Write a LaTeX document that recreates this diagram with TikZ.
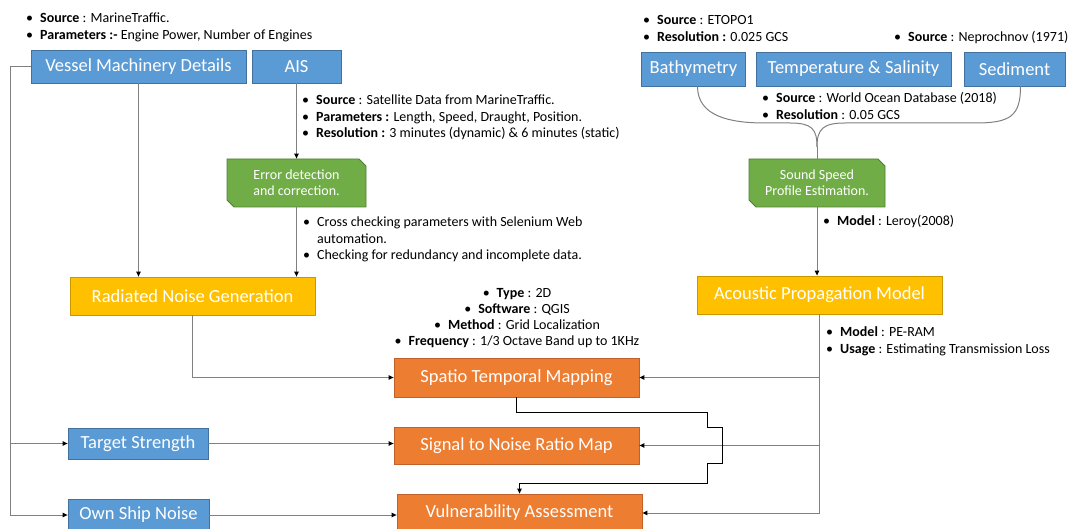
\documentclass[tikz,border=0pt]{standalone}
\usepackage{fontspec}
\setmainfont{Carlito}
\usetikzlibrary{arrows.meta,shapes.misc}
\definecolor{boxblue}{HTML}{5B9BD5}
\definecolor{edgeblue}{HTML}{41719C}
\definecolor{boxgreen}{HTML}{70AD47}
\definecolor{edgegreen}{HTML}{507E32}
\definecolor{boxyellow}{HTML}{FFC000}
\definecolor{edgeyellow}{HTML}{C99700}
\definecolor{boxorange}{HTML}{ED7D31}
\definecolor{edgeorange}{HTML}{C0612A}
\definecolor{linegray}{HTML}{808080}
\newcommand{\bl}{\textbullet &}
\begin{document}
\begin{tikzpicture}[x=1pt,y=-1pt,
    box/.style={draw, line width=0.8pt, text=white, inner sep=0pt,
      font=\fontsize{18.5}{21}\selectfont},
    bluebox/.style={box, fill=boxblue, draw=edgeblue},
    yellowbox/.style={box, fill=boxyellow, draw=edgeyellow},
    orangebox/.style={box, fill=boxorange, draw=edgeorange},
    greenbox/.style={box, chamfered rectangle,
      chamfered rectangle corners={north east,south west},
      chamfered rectangle xsep=3.5pt, chamfered rectangle ysep=3.5pt,
      fill=boxgreen, draw=edgegreen, align=center,
      font=\fontsize{14}{16}\selectfont},
    note/.style={inner sep=0pt, anchor=north west, font=\fontsize{14}{16.5}\selectfont},
    link/.style={draw=linegray, line width=1pt},
    arr/.style={link, -{Triangle[length=5pt,width=4.5pt,color=black]}}]
  \useasboundingbox (0,0) rectangle (1070,529);
  % input boxes
  \node[bluebox, minimum width=215, minimum height=33] (vessel) at (138.5,66.5) {Vessel Machinery Details};
  \node[bluebox, minimum width=89, minimum height=33] (ais) at (296.5,66.5) {AIS};
  \node[bluebox, minimum width=104, minimum height=34] (bathy) at (693.5,69) {Bathymetry};
  \node[bluebox, minimum width=195, minimum height=34] (temp) at (853.5,69) {Temperature \& Salinity};
  \node[bluebox, minimum width=101, minimum height=34] (sed) at (1014.5,69) {Sediment};
  \node[bluebox, minimum width=140, minimum height=31] (target) at (138,443.5) {Target Strength};
  \node[bluebox, minimum width=141, minimum height=31] (ownship) at (138.5,515) {Own Ship Noise};
  % processing
  \node[greenbox, minimum width=139, minimum height=48] (errdet) at (296.5,183) {Error detection\\and correction.};
  \node[greenbox, minimum width=136, minimum height=48] (ssp) at (817,183) {Sound Speed\\Profile Estimation.};
  \node[yellowbox, minimum width=245, minimum height=38] (rng) at (192.5,296) {Radiated Noise Generation};
  \node[yellowbox, minimum width=245, minimum height=38] (apm) at (819.5,295) {Acoustic Propagation Model};
  \node[orangebox, minimum width=245, minimum height=39] (stm) at (516.5,377.5) {Spatio Temporal Mapping};
  \node[orangebox, minimum width=245, minimum height=37] (snr) at (516.5,445.5) {Signal to Noise Ratio Map};
  \node[orangebox, minimum width=245, minimum height=38] (va) at (519.5,513) {Vulnerability Assessment};
  % notes
  \node[note] (vesselnote) at (26,11) {\begin{tabular}{@{}l@{\hspace{7pt}}l@{}}
    \bl \textbf{Source} : MarineTraffic.\\
    \bl \textbf{Parameters :-} Engine Power, Number of Engines
  \end{tabular}};
  \node[note] (aisnote) at (302,93) {\begin{tabular}{@{}l@{\hspace{7pt}}l@{}}
    \bl \textbf{Source} : Satellite Data from MarineTraffic.\\
    \bl \textbf{Parameters :} Length, Speed, Draught, Position.\\
    \bl \textbf{Resolution :} 3 minutes (dynamic) \& 6 minutes (static)
  \end{tabular}};
  \node[note] (errnote) at (303,215) {\begin{tabular}{@{}l@{\hspace{7pt}}l@{}}
    \bl Cross checking parameters with Selenium Web\\
    & automation.\\
    \bl Checking for redundancy and incomplete data.
  \end{tabular}};
  \node[note] (bathynote) at (643,13) {\begin{tabular}{@{}l@{\hspace{7pt}}l@{}}
    \bl \textbf{Source} : ETOPO1\\
    \bl \textbf{Resolution :} 0.025 GCS
  \end{tabular}};
  \node[note] (sednote) at (894,30) {\begin{tabular}{@{}l@{\hspace{7pt}}l@{}}
    \bl \textbf{Source} : Neprochnov (1971)
  \end{tabular}};
  \node[note] (tempnote) at (762,91) {\begin{tabular}{@{}l@{\hspace{7pt}}l@{}}
    \bl \textbf{Source} : World Ocean Database (2018)\\
    \bl \textbf{Resolution} : 0.05 GCS
  \end{tabular}};
  \node[note] (sspnote) at (823,214) {\begin{tabular}{@{}l@{\hspace{7pt}}l@{}}
    \bl \textbf{Model} : Leroy(2008)
  \end{tabular}};
  \node[note] (apmnote) at (826,325) {\begin{tabular}{@{}l@{\hspace{7pt}}l@{}}
    \bl \textbf{Model} : PE-RAM\\
    \bl \textbf{Usage} : Estimating Transmission Loss
  \end{tabular}};
  \node[note, anchor=north, font=\fontsize{14}{16}\selectfont] (stmnote) at (517,286) {\begin{tabular}{@{}c@{}}
    \textbullet\hspace{7pt}\textbf{Type} : 2D\\
    \textbullet\hspace{7pt}\textbf{Software} : QGIS\\
    \textbullet\hspace{7pt}\textbf{Method} : Grid Localization\\
    \textbullet\hspace{7pt}\textbf{Frequency} : 1/3 Octave Band up to 1KHz
  \end{tabular}};
  \coordinate (lft) at (10,66.5);
  \coordinate (tip) at (817,147);
  \begin{scope}[arr]
    \draw (vessel.west) -- (lft) |- (ownship.west);
    \draw (lft) |- (target.west);
    \draw (vessel.south) -- (vessel.south |- rng.north);
    \draw (ais.south) -- (errdet.north);
    \draw (errdet.south) -- (errdet.south |- rng.north);
    \draw (rng.south) |- (stm.west);
    \draw (target.east) -- (target.east -| snr.west);
    \draw (ownship.east) -- (ownship.east -| va.west);
    \draw (ssp.south) -- (ssp.south |- apm.north);
    \draw (apm.south) |- (va.east);
    \draw (apm.south |- stm.east) -- (stm.east);
    \draw (apm.south |- snr.east) -- (snr.east);
    \draw[draw=black] (stm.south) |- (707,412) -- (707,427) -- (722,427)
      -- (722,463) -- (707,463) -- (707,483) -| (va.north);
  \end{scope}
  \begin{scope}[link]
    \draw ([xshift=4pt]bathy.south) .. controls +(0,30) and +(-35,0) .. (765,123)
      -- (790,123) .. controls +(22,0) and +(0,-18) .. (tip);
    \draw ([xshift=6pt]sed.south) .. controls +(0,30) and +(35,0) .. (975,123)
      -- (845,123) .. controls +(-22,0) and +(0,-18) .. (tip);
    \draw (tip) -- (ssp.north);
  \end{scope}
\end{tikzpicture}
\end{document}
